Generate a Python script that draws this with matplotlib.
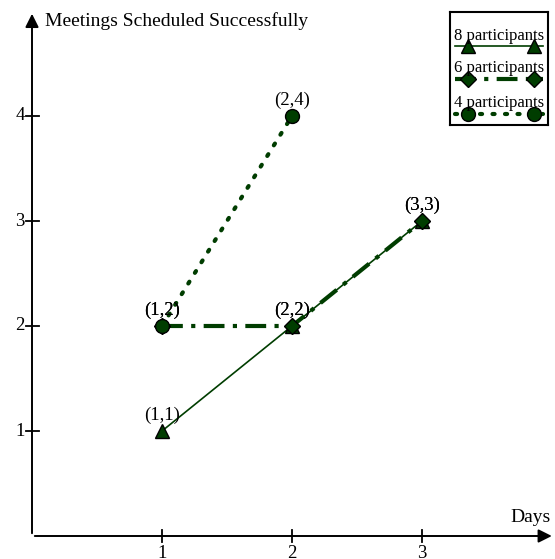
import numpy as np
import matplotlib
matplotlib.use('Agg')
import matplotlib.pyplot as plt

plt.rcParams['font.family'] = ['Liberation Serif', 'DejaVu Serif']

# data
days = [1, 2, 3]
meet_8 = [1, 2, 3]
meet_6 = [2, 2, 3]
days_4 = [1, 2]
meet_4 = [2, 4]

xticks = [1, 2, 3]
yticks = [1, 2, 3, 4]

green = '#003d00'

fig = plt.figure(figsize=(5.55, 5.59), dpi=100)
W, H = 555., 559.
ax = fig.add_axes([32. / W, 23. / H, 520. / W, 525. / H])
ax.set_xlim(0., 4.)
ax.set_ylim(0., 5.)
ax.axis('off')

# axes with arrows
ax.annotate('', xy=(4.02, 0), xytext=(0, 0), annotation_clip=False,
            arrowprops=dict(arrowstyle='-|>', color='k', lw=1.4, mutation_scale=20))
ax.annotate('', xy=(0, 5.0), xytext=(0, 0), annotation_clip=False,
            arrowprops=dict(arrowstyle='-|>', color='k', lw=1.4, mutation_scale=20))

for t in xticks:
    ax.plot([t, t], [-0.06, 0.06], color='k', lw=1.3, clip_on=False)
    ax.text(t, -0.09, str(t), ha='center', va='top', fontsize=13.5)
for t in yticks:
    ax.plot([-0.05, 0.05], [t, t], color='k', lw=1.3, clip_on=False)
    ax.text(-0.055, t, str(t), ha='right', va='center', fontsize=13.5)

ax.text(0.1, 4.9, 'Meetings Scheduled Successfully', ha='left', va='center', fontsize=14)
ax.text(3.99, 0.1, 'Days', ha='right', va='bottom', fontsize=14)

styles = [
    (days, meet_8, dict(ls='-', lw=1.2, marker='^', ms=10)),
    (days, meet_6, dict(ls=(0, (5, 2, 1, 2)), lw=3, marker='D', ms=8)),
    (days_4, meet_4, dict(ls=(0, (0.5, 2.5)), lw=3, dash_capstyle='round', marker='o', ms=10)),
]
for xs, ys, kw in styles:
    ax.plot(xs, ys, color=green, mec='k', mfc=green, mew=1, clip_on=False, **kw)
    for x, y in zip(xs, ys):
        ax.text(x, y + 0.07, '(%d,%d)' % (x, y), ha='center', va='bottom', fontsize=13.5)

# legend box
lax = fig.add_axes([450. / W, 1 - 125. / H, 98. / W, 113. / H])
lax.set_xlim(0, 1)
lax.set_ylim(0, 1)
lax.set_xticks([])
lax.set_yticks([])
for s in lax.spines.values():
    s.set_linewidth(1.5)
labels = ['8 participants', '6 participants', '4 participants']
rows = [0.7, 0.41, 0.1]
for (xs, ys, kw), lab, r in zip(styles, labels, rows):
    lax.plot([0.05, 0.95], [r, r], color=green, **{k: v for k, v in kw.items() if k not in ('marker', 'ms')})
    lax.plot([0.18, 0.86], [r, r], ls='none', marker=kw['marker'], ms=kw['ms'],
             color=green, mec='k', mfc=green, mew=1)
    lax.text(0.5, r + 0.02, lab, ha='center', va='bottom', fontsize=12)

fig.savefig('out.png', dpi=100)
